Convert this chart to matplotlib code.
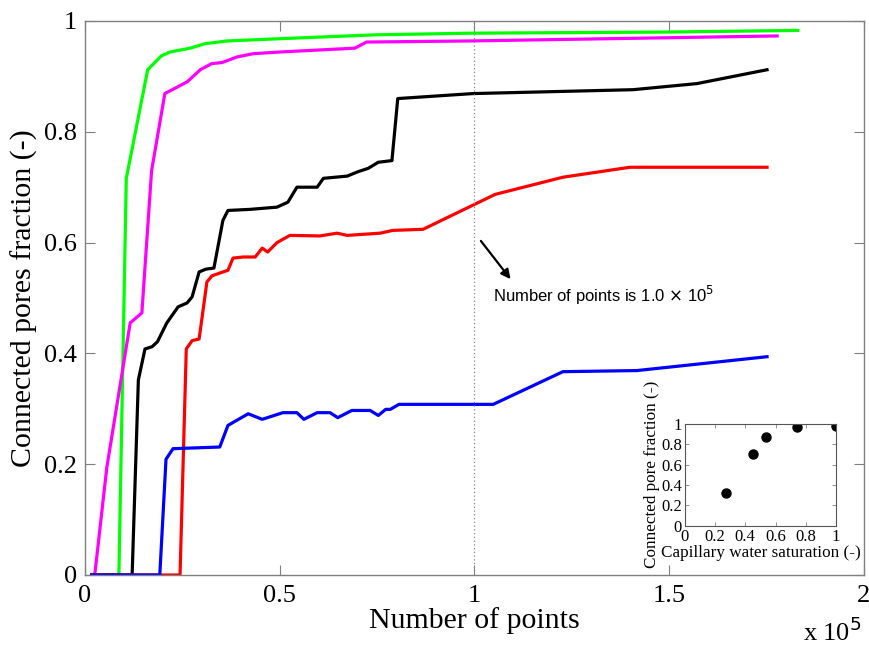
import matplotlib
matplotlib.use("Agg")
import matplotlib.pyplot as plt

# Number of points (in units of 1e5) and connected pore fraction for each saturation level
green_x = [0.017, 0.087, 0.106, 0.161, 0.196, 0.218, 0.27, 0.308, 0.365, 0.5, 0.743, 0.991, 1.488, 1.83]
green_y = [0.0, 0.0, 0.716, 0.912, 0.937, 0.944, 0.951, 0.959, 0.964, 0.968, 0.975, 0.978, 0.980, 0.983]

magenta_x = [0.025, 0.056, 0.116, 0.146, 0.171, 0.205, 0.262, 0.296, 0.325, 0.352, 0.39, 0.432, 0.5,
             0.693, 0.723, 0.991, 1.777]
magenta_y = [0.0, 0.194, 0.455, 0.473, 0.73, 0.869, 0.89, 0.912, 0.923, 0.925, 0.935, 0.941, 0.944,
             0.951, 0.962, 0.964, 0.973]

black_x = [0.017, 0.121, 0.137, 0.154, 0.172, 0.186, 0.210, 0.239, 0.262, 0.275, 0.293, 0.31, 0.331,
           0.354, 0.367, 0.424, 0.493, 0.521, 0.544, 0.596, 0.612, 0.673, 0.701, 0.727, 0.753, 0.788,
           0.803, 0.996, 1.407, 1.571, 1.751]
black_y = [0.0, 0.0, 0.352, 0.408, 0.412, 0.421, 0.455, 0.484, 0.491, 0.502, 0.547, 0.552, 0.554,
           0.64, 0.658, 0.66, 0.664, 0.673, 0.70, 0.70, 0.716, 0.72, 0.728, 0.734, 0.745, 0.748,
           0.86, 0.869, 0.876, 0.887, 0.912]

red_x = [0.017, 0.244, 0.26, 0.275, 0.293, 0.313, 0.326, 0.346, 0.367, 0.38, 0.406, 0.437, 0.455,
         0.469, 0.493, 0.526, 0.603, 0.647, 0.673, 0.758, 0.79, 0.868, 1.053, 1.227, 1.399, 1.751]
red_y = [0.0, 0.0, 0.408, 0.423, 0.426, 0.529, 0.54, 0.545, 0.55, 0.572, 0.574, 0.574, 0.59,
         0.583, 0.60, 0.613, 0.612, 0.617, 0.613, 0.617, 0.622, 0.624, 0.687, 0.718, 0.736, 0.736]

blue_x = [0.017, 0.192, 0.208, 0.226, 0.346, 0.367, 0.419, 0.455, 0.508, 0.544, 0.562, 0.596, 0.629,
          0.649, 0.685, 0.732, 0.753, 0.772, 0.784, 0.806, 1.048, 1.227, 1.417, 1.751]
blue_y = [0.0, 0.0, 0.209, 0.228, 0.231, 0.27, 0.291, 0.281, 0.293, 0.293, 0.281, 0.293, 0.293,
          0.284, 0.297, 0.297, 0.288, 0.299, 0.299, 0.308, 0.308, 0.367, 0.369, 0.394]

# Inset data
sat_x = [0.27, 0.45, 0.54, 0.74, 1.0]
conn_y = [0.32, 0.70, 0.87, 0.97, 0.98]

x_ticks = [0, 0.5, 1, 1.5, 2]
x_tick_labels = ["0", "0.5", "1", "1.5", "2"]
y_ticks = [0, 0.2, 0.4, 0.6, 0.8, 1]
y_tick_labels = ["0", "0.2", "0.4", "0.6", "0.8", "1"]
inset_ticks = [0, 0.2, 0.4, 0.6, 0.8, 1]
inset_tick_labels = ["0", "0.2", "0.4", "0.6", "0.8", "1"]

serif = "Liberation Serif"
sans = "Liberation Sans"
spine_color = "#808080"

fig = plt.figure(figsize=(8.7, 6.5), dpi=100)
ax = fig.add_axes([0.0977, 0.1154, 0.8954, 0.8523])

lw = 2.3
ax.plot(green_x, green_y, color="#00ff00", lw=lw)
ax.plot(magenta_x, magenta_y, color="#ff00ff", lw=lw)
ax.plot(black_x, black_y, color="black", lw=lw)
ax.plot(red_x, red_y, color="#ff0000", lw=lw)
ax.plot(blue_x, blue_y, color="#0000ff", lw=lw)

ax.axvline(1.0, color="#888888", lw=0.9, ls=(0, (1, 2)))

ax.set_xlim(0, 2)
ax.set_ylim(0, 1)
ax.set_xticks(x_ticks)
ax.set_xticklabels(x_tick_labels, fontfamily=serif, fontsize=19)
ax.set_yticks(y_ticks)
ax.set_yticklabels(y_tick_labels, fontfamily=serif, fontsize=19)
ax.tick_params(direction="in", length=7, width=0.8, color=spine_color,
               top=True, right=True)
ax.tick_params(axis="x", pad=7)
ax.tick_params(axis="y", pad=6)
for s in ax.spines.values():
    s.set_color(spine_color)
    s.set_linewidth(1.0)

ax.set_xlabel("Number of points", fontfamily=serif, fontsize=21.5, labelpad=0)
ax.set_ylabel("Connected pores fraction (-)", fontfamily=serif, fontsize=21.5, labelpad=4)
fig.text(862 / 870, 1 - 641 / 650, r"x 10$^5$", fontfamily=serif, fontsize=19, ha="right",
         va="baseline")

ax.annotate("", xy=(1.097, 0.53), xytext=(1.012, 0.607),
            arrowprops=dict(arrowstyle="-|>", color="black", lw=1.6,
                            mutation_scale=14))
ax.text(1.047, 0.504, r"Number of points is 1.0 $\times$ 10$^5$", fontfamily=sans,
        fontsize=12, ha="left", va="center")

# Inset: connected pore fraction versus capillary water saturation
axi = fig.add_axes([0.787, 0.191, 0.174, 0.157])
axi.plot(sat_x, conn_y, "o", color="black", ms=6.5)
axi.set_xlim(0, 1)
axi.set_ylim(0, 1)
axi.set_xticks(inset_ticks)
axi.set_xticklabels(inset_tick_labels, fontfamily=serif, fontsize=12)
axi.set_yticks(inset_ticks)
axi.set_yticklabels(inset_tick_labels, fontfamily=serif, fontsize=12)
axi.tick_params(direction="in", length=3, width=0.6, color=spine_color,
                top=True, right=True, pad=2)
for s in axi.spines.values():
    s.set_color("#555555")
    s.set_linewidth(0.8)
axi.set_xlabel("Capillary water saturation (-)", fontfamily=serif, fontsize=12.3, labelpad=0)
axi.set_ylabel("Connected pore fraction (-)", fontfamily=serif, fontsize=12.3, labelpad=1)

fig.savefig("out.png", dpi=100)
